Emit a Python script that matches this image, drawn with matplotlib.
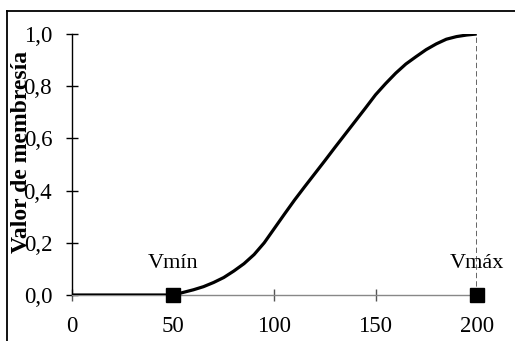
import matplotlib
matplotlib.use('Agg')
import matplotlib.pyplot as plt
from matplotlib.lines import Line2D

# membership curve
x_vals = [0, 50, 55, 60, 65, 70, 75, 80, 85, 90, 95, 100, 105, 110, 115,
          120, 125, 130, 135, 140, 145, 150, 155, 160, 165, 170, 175, 180,
          185, 190, 195, 200]
y_vals = [0.0, 0.0, 0.01, 0.02, 0.032, 0.048, 0.067, 0.092, 0.12, 0.155,
          0.2, 0.255, 0.31, 0.364, 0.415, 0.465, 0.515, 0.566, 0.616,
          0.666, 0.716, 0.767, 0.81, 0.85, 0.885, 0.913, 0.94, 0.962,
          0.98, 0.99, 0.996, 1.0]

v_min = 50
v_max = 200
point_labels = ['Vmín', 'Vmáx']
x_ticks = [0, 50, 100, 150, 200]
y_ticks = [0.0, 0.2, 0.4, 0.6, 0.8, 1.0]
y_tick_labels = ['0,0', '0,2', '0,4', '0,6', '0,8', '1,0']

plt.rcParams['font.family'] = ['Liberation Serif', 'DejaVu Serif']

fig = plt.figure(figsize=(5.15, 3.41), dpi=100)
ax = fig.add_axes([0.1398, 0.1349, 0.7858, 0.7654])

ax.plot(x_vals, y_vals, color='black', lw=2.3, solid_capstyle='butt',
        solid_joinstyle='round', zorder=3)
# dashed guide at Vmax
ax.plot([v_max, v_max], [0, 1], color='#3a3a3a', lw=1.1,
        linestyle=(0, (3.5, 2)), zorder=2)
ax.plot([v_min, v_max], [0, 0], linestyle='none', marker='s',
        markersize=10.5, color='black', zorder=4, clip_on=False)

ax.text(v_min, 0.12, point_labels[0], ha='center', va='center', fontsize=16)
ax.text(v_max, 0.12, point_labels[1], ha='center', va='center', fontsize=16)

ax.set_xlim(0, 200)
ax.set_ylim(0, 1)
ax.set_xticks(x_ticks)
ax.set_yticks(y_ticks)
ax.set_yticklabels(y_tick_labels)

ax.spines['top'].set_visible(False)
ax.spines['right'].set_visible(False)
ax.spines['left'].set_color('black')
ax.spines['left'].set_linewidth(1.0)
ax.spines['bottom'].set_color('#888888')
ax.spines['bottom'].set_linewidth(1.0)

ax.tick_params(axis='y', direction='inout', length=8.6, width=1.0,
               pad=10, labelsize=16.5, color='black')
ax.tick_params(axis='x', direction='inout', length=9, width=1.0,
               pad=10.5, labelsize=16.5, color='#555555')

ax.set_ylabel('Valor de membresía', fontsize=17, fontweight='bold')
ax.yaxis.set_label_coords(-0.1, 0.548)

# frame around the figure (only top and left edges are visible)
fig.add_artist(Line2D([7 / 515, 1], [1 - 11 / 341, 1 - 11 / 341],
                      transform=fig.transFigure, color='black', lw=1.3))
fig.add_artist(Line2D([7 / 515, 7 / 515], [0, 1 - 11 / 341],
                      transform=fig.transFigure, color='black', lw=1.3))

fig.savefig('out.png', dpi=100)
